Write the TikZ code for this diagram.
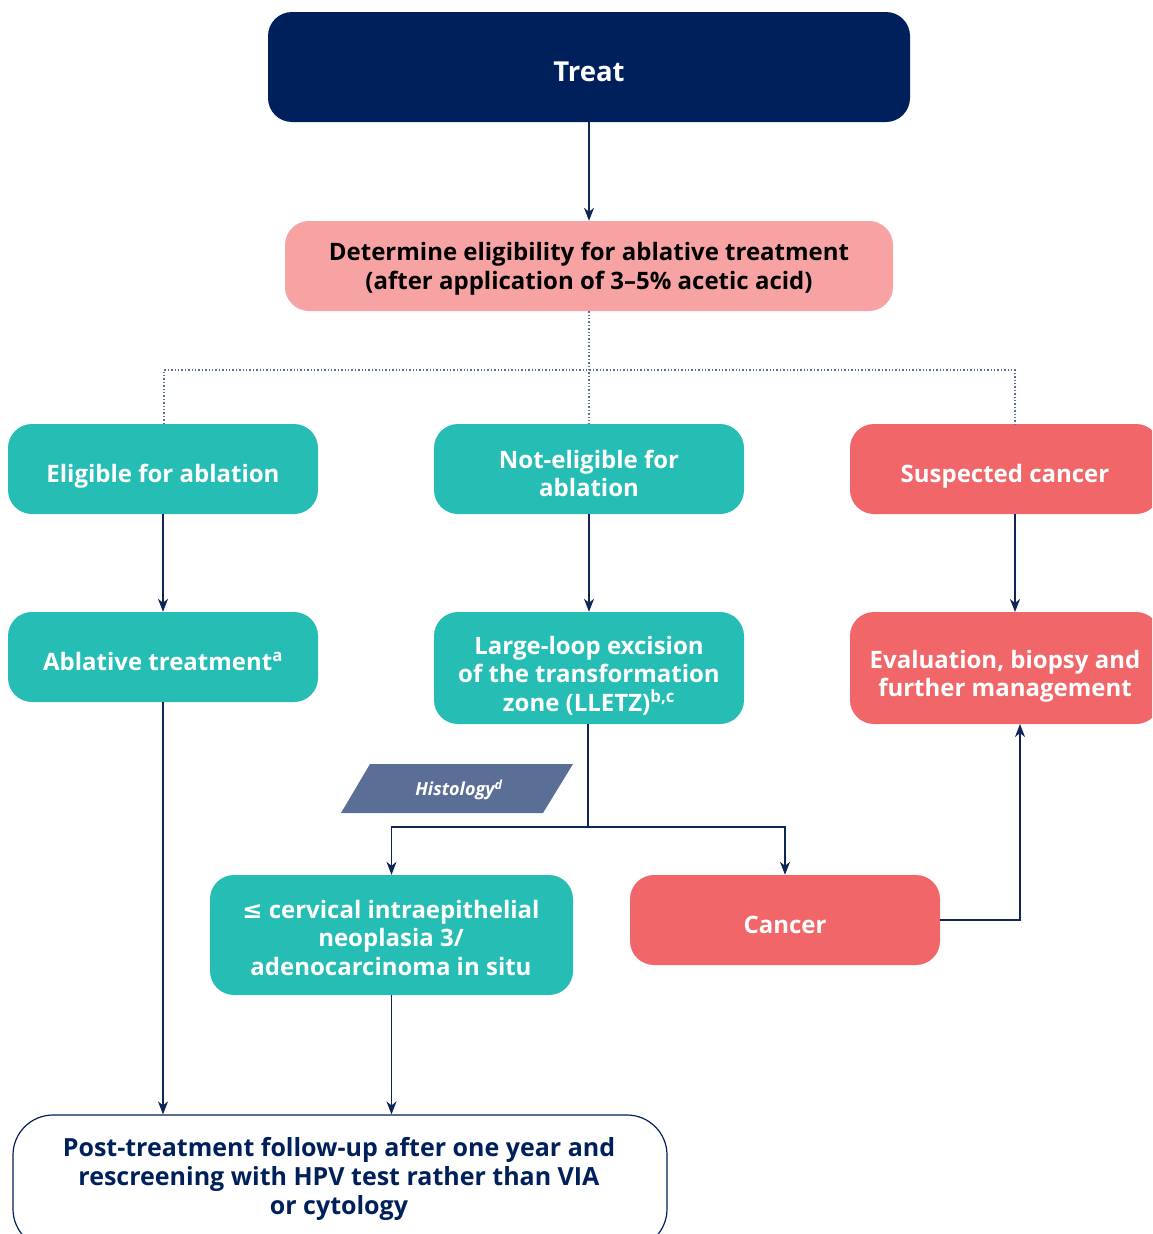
\documentclass[tikz,border=0pt]{standalone}
\usepackage{fontspec}
\setmainfont{Open Sans}
\newfontfamily\symfont{DejaVu Sans}
\usetikzlibrary{arrows.meta}
\definecolor{navy}{HTML}{00205B}
\definecolor{teal}{HTML}{26BDB5}
\definecolor{coral}{HTML}{F06669}
\definecolor{pinkb}{HTML}{F7A3A4}
\definecolor{slate}{HTML}{5A6E96}
\definecolor{lnav}{HTML}{0D2557}
\tikzset{
  box/.style={rounded corners=24pt, inner sep=0pt},
  tealbox/.style={box, fill=teal},
  redbox/.style={box, fill=coral},
  lab/.style={align=center, inner sep=0pt, font=\fontsize{24}{28.5}\selectfont\bfseries, text=white},
  arr/.style={draw=lnav, line width=1.3pt, -{Stealth[length=13pt,width=10pt,inset=4pt]}},
  conn/.style={draw=lnav, line width=1.3pt},
  dotline/.style={draw=slate, line width=1.4pt, dotted}
}
\begin{document}
\begin{tikzpicture}[x=1pt,y=-1pt]
\useasboundingbox (0,0) rectangle (1152,1234);
\clip (0,0) rectangle (1152,1234);
% boxes
\node[box, fill=navy, minimum width=642, minimum height=110] (treat) at (589,67) {};
\node[box, fill=pinkb, minimum width=608, minimum height=90] (det) at (589,266) {};
\node[tealbox, minimum width=310, minimum height=90] (elig) at (163,469) {};
\node[tealbox, minimum width=310, minimum height=90] (notel) at (589,469) {};
\node[redbox, minimum width=310, minimum height=90] (susp) at (1005,469) {};
\node[tealbox, minimum width=310, minimum height=90] (abl) at (163,657) {};
\node[tealbox, minimum width=310, minimum height=112] (lletz) at (589,668) {};
\node[redbox, minimum width=310, minimum height=112] (eval) at (1005,668) {};
\node[tealbox, minimum width=363, minimum height=120] (cin) at (391.5,935) {};
\node[redbox, minimum width=310, minimum height=90] (cancer) at (785,920) {};
\node[box, rounded corners=40pt, fill=white, draw=navy, line width=1.2pt, minimum width=654, minimum height=134] (post) at (340,1182) {};
% texts
\node[lab, font=\fontsize{27.5}{30}\selectfont\bfseries] (treatT) at (589,72) {Treat};
\node[lab, text=black] (detT) at (589,268.5) {Determine eligibility for ablative treatment\\(after application of 3–5\% acetic acid)};
\node[lab] (eligT) at (163,476) {Eligible for ablation};
\node[lab] (notelT) at (589,473.5) {Not-eligible for\\ablation};
\node[lab] (suspT) at (1005,476) {Suspected cancer};
\node[lab] (ablT) at (163,661) {Ablative treatment\textsuperscript{a}};
\node[lab] (lletzT) at (589,675.5) {Large-loop excision\\of the transformation\\zone (LLETZ)\textsuperscript{b,c}};
\node[lab] (evalT) at (1005,676.5) {Evaluation, biopsy and\\further management};
\node[lab] (cinT) at (391,937.5) {{\symfont\bfseries ≤} cervical intraepithelial\\neoplasia 3/\\adenocarcinoma in situ};
\node[lab] (cancerT) at (785,925) {Cancer};
\node[lab, text=navy, font=\fontsize{25}{28.8}\selectfont\bfseries] (postT) at (339,1179) {Post-treatment follow-up after one year and\\rescreening with HPV test rather than VIA\\or cytology};
% histology parallelogram
\fill[slate] (341,813) -- (370,764) -- (573,764) -- (543,813) -- cycle;
\node[text=white, font=\fontsize{18}{20}\selectfont\bfseries\itshape] (hist) at (459,790) {Histology\textsuperscript{d}};
% connectors
\draw[arr] (treat.south) -- (det.north);
\coordinate (jmid) at (589,370);
\coordinate (eligtop) at (164,424);
\coordinate (susptop) at (1015,424);
\draw[dotline] (det.south) -- (notel.north);
\draw[dotline] (eligtop) |- (jmid) -| (susptop);
\draw[arr] (elig.south) -- (abl.north);
\draw[arr] (notel.south) -- (lletz.north);
\coordinate (suspbot) at (1015,514);
\coordinate (evaltop) at (1015,612);
\draw[arr] (suspbot) -- (evaltop);
\coordinate (split) at (588,827);
\draw[conn] (lletz.south -| split) -- (split);
\draw[arr] (split) -| (cin.north);
\draw[arr] (split) -| (cancer.north);
\coordinate (evalbot) at (1020,724);
\draw[arr] (cancer.east) -| (evalbot);
\draw[arr] (abl.south) -- (abl.south |- post.north);
\draw[arr] (cin.south) -- (cin.south |- post.north);
\end{tikzpicture}
\end{document}
